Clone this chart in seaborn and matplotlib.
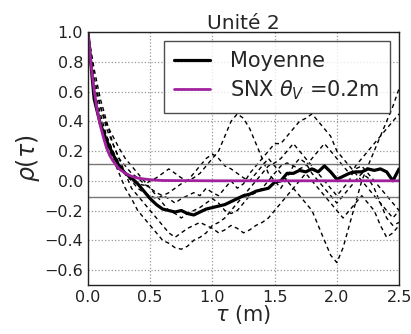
import numpy as np
import pandas as pd
import matplotlib
matplotlib.use("Agg")
import matplotlib.pyplot as plt
import seaborn as sns

# Lag grid (m) for the individual correlograms and the mean
tau = [round(0.05 * i, 2) for i in range(51)]

# Individual autocorrelation profiles (dashed)
profil_1 = [1.0, 0.62, 0.45, 0.30, 0.20, 0.12, 0.05, 0.00, -0.05, -0.08, -0.10,
            -0.12, -0.10, -0.08, -0.05, -0.02, 0.00, 0.02, 0.05, 0.10, 0.15,
            0.20, 0.30, 0.40, 0.45, 0.42, 0.35, 0.25, 0.15, 0.05, 0.00,
            -0.05, 0.02, 0.10, 0.15, 0.12, 0.05, 0.00, -0.05, -0.10, -0.15,
            -0.10, -0.05, 0.00, 0.05, 0.02, -0.05, -0.15, -0.25, -0.30, -0.28]
profil_2 = [1.0, 0.70, 0.50, 0.35, 0.25, 0.15, 0.10, 0.05, 0.02, -0.02, -0.05,
            -0.08, -0.10, -0.12, -0.15, -0.12, -0.10, -0.08, -0.10, -0.05, -0.08,
            -0.10, -0.05, 0.00, -0.05, -0.02, 0.05, 0.10, 0.15, 0.20, 0.25,
            0.25, 0.30, 0.35, 0.40, 0.42, 0.45, 0.40, 0.35, 0.30, 0.20,
            0.15, 0.10, 0.05, 0.00, -0.05, -0.10, -0.15, -0.20, -0.25, -0.20]
profil_3 = [1.0, 0.55, 0.40, 0.30, 0.20, 0.10, 0.05, 0.00, -0.02, -0.03, 0.00,
            0.02, 0.05, 0.08, 0.05, 0.02, 0.00, 0.05, 0.10, 0.15, 0.18,
            0.15, 0.10, 0.08, 0.05, 0.02, 0.00, 0.05, 0.10, 0.15, 0.10,
            0.05, 0.00, -0.05, -0.10, -0.15, -0.20, -0.30, -0.40, -0.50, -0.55,
            -0.45, -0.30, -0.15, 0.00, 0.10, 0.20, 0.30, 0.40, 0.50, 0.62]
profil_4 = [1.0, 0.60, 0.40, 0.25, 0.15, 0.05, -0.05, -0.12, -0.20, -0.25, -0.30,
            -0.35, -0.40, -0.42, -0.45, -0.46, -0.44, -0.40, -0.38, -0.35, -0.30,
            -0.28, -0.25, -0.20, -0.15, -0.10, -0.05, 0.00, 0.05, 0.10, 0.12,
            0.15, 0.20, 0.25, 0.20, 0.15, 0.10, 0.05, 0.00, -0.05, -0.10,
            -0.05, 0.00, 0.10, 0.15, 0.20, 0.25, 0.30, 0.35, 0.40, 0.45]
profil_5 = [1.0, 0.75, 0.55, 0.40, 0.25, 0.15, 0.05, -0.05, -0.10, -0.15, -0.20,
            -0.25, -0.30, -0.35, -0.38, -0.35, -0.32, -0.30, -0.28, -0.30, -0.32,
            -0.35, -0.33, -0.30, -0.32, -0.35, -0.33, -0.30, -0.28, -0.25, -0.20,
            -0.15, -0.10, -0.05, 0.00, 0.05, 0.00, -0.05, -0.10, -0.15, -0.20,
            -0.25, -0.20, -0.15, -0.10, -0.15, -0.20, -0.30, -0.38, -0.35, -0.30]
profil_6 = [1.0, 0.65, 0.50, 0.38, 0.30, 0.22, 0.15, 0.10, 0.05, 0.00, -0.05,
            -0.10, -0.15, -0.20, -0.22, -0.25, -0.22, -0.20, -0.18, -0.15, -0.12,
            -0.15, -0.20, -0.22, -0.20, -0.15, -0.10, -0.08, -0.05, 0.00, 0.05,
            0.10, 0.12, 0.10, 0.08, 0.10, 0.15, 0.20, 0.25, 0.20, 0.15,
            0.10, 0.05, 0.08, 0.10, 0.05, 0.00, -0.05, -0.10, -0.15, -0.20]
profils = [profil_1, profil_2, profil_3, profil_4, profil_5, profil_6]

# Mean correlogram
moyenne = [1.0, 0.55, 0.38, 0.27, 0.18, 0.10, 0.05, 0.02, -0.02, -0.07, -0.12,
           -0.16, -0.19, -0.20, -0.21, -0.20, -0.22, -0.23, -0.21, -0.19, -0.18,
           -0.17, -0.16, -0.14, -0.12, -0.10, -0.09, -0.07, -0.06, -0.05, -0.01,
           0.00, 0.05, 0.05, 0.07, 0.06, 0.08, 0.06, 0.10, 0.06, 0.01,
           0.03, 0.05, 0.06, 0.06, 0.08, 0.07, 0.08, 0.06, 0.00, 0.08]

# Exponential model, correlation length 0.2 m
tau_snx = [0.0, 0.025, 0.05, 0.075, 0.1, 0.125, 0.15, 0.175, 0.2, 0.25, 0.3,
           0.35, 0.4, 0.5, 0.6, 1.0, 2.5]
rho_snx = [1.0, 0.78, 0.61, 0.47, 0.37, 0.29, 0.22, 0.17, 0.135, 0.08, 0.05,
           0.03, 0.018, 0.007, 0.002, 0.0, 0.0]

# Confidence band around zero
seuil = 0.11

rows = []
for k, p in enumerate(profils):
    for t, r in zip(tau, p):
        rows.append({"tau": t, "rho": r, "profil": f"p{k + 1}"})
df_prof = pd.DataFrame(rows)
df_moy = pd.DataFrame({"tau": tau, "rho": moyenne})
df_snx = pd.DataFrame({"tau": tau_snx, "rho": rho_snx})

sns.set_style("white")
plt.rcParams["font.family"] = ["DejaVu Sans"]
plt.rcParams["mathtext.fontset"] = "dejavusans"

fig = plt.figure(figsize=(4.11, 3.34), dpi=100)
ax = fig.add_axes([0.214, 0.147, 0.757, 0.757])

sns.lineplot(data=df_prof, x="tau", y="rho", units="profil", estimator=None,
             color="black", lw=1.0, linestyle=(0, (3, 2.5)), ax=ax, legend=False)
ax.axhline(seuil, color="#777777", lw=1.0)
ax.axhline(-seuil, color="#777777", lw=1.0)
sns.lineplot(data=df_moy, x="tau", y="rho", color="black", lw=2.3, ax=ax,
             label="Moyenne")
sns.lineplot(data=df_snx, x="tau", y="rho", color="#a0209e", lw=2.0, ax=ax,
             label=r"SNX $\theta_V$ =0.2m")

ax.set_xlim(0, 2.5)
ax.set_ylim(-0.7, 1.0)
ax.set_xticks([0.0, 0.5, 1.0, 1.5, 2.0, 2.5])
ax.set_yticks([-0.6, -0.4, -0.2, 0.0, 0.2, 0.4, 0.6, 0.8, 1.0])
ax.set_xticklabels(["0.0", "0.5", "1.0", "1.5", "2.0", "2.5"])
ax.set_yticklabels(["\u22120.6", "\u22120.4", "\u22120.2", "0.0", "0.2", "0.4",
                    "0.6", "0.8", "1.0"])
ax.tick_params(labelsize=11.5, direction="in", length=3, colors="#222222")
ax.grid(True, linestyle=":", color="#999999", lw=0.9)
for s in ax.spines.values():
    s.set_color("#222222")
    s.set_linewidth(1.0)

ax.set_xlabel(r"$\tau$ (m)", fontsize=15, labelpad=-1)
ax.set_ylabel(r"$\rho(\tau)$", fontsize=17, labelpad=2)
ax.set_title("Unité 2", fontsize=14.5, pad=2)

leg = ax.legend(loc="upper right", fontsize=15, frameon=True, fancybox=False,
                handlelength=1.7, handletextpad=1.0, borderpad=0.5,
                labelspacing=0.35, borderaxespad=0.0,
                bbox_to_anchor=(0.97, 0.965))
leg.get_frame().set_edgecolor("#222222")
leg.get_frame().set_linewidth(1.0)

fig.savefig("out.png", dpi=100)
